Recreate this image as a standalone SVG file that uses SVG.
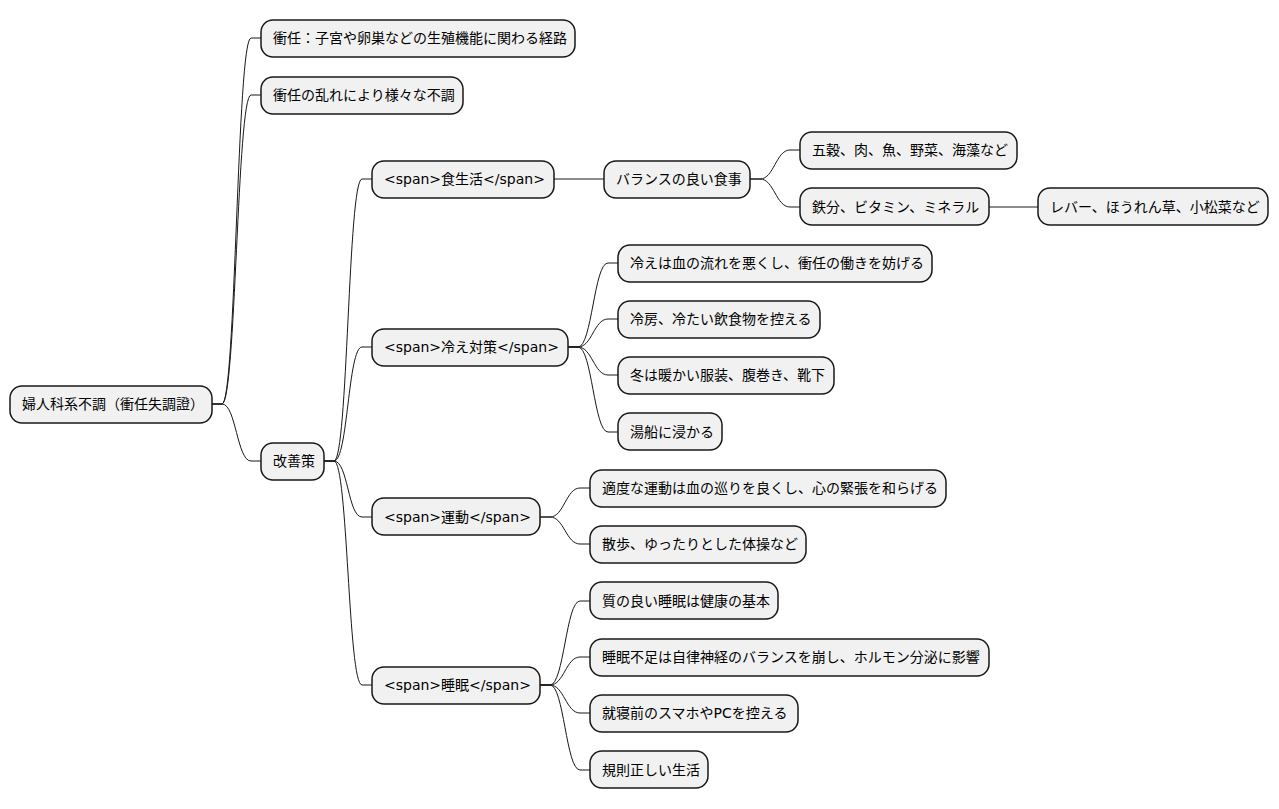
<svg xmlns="http://www.w3.org/2000/svg" width="1279" height="809" viewBox="0 0 1279 809">
<style>
.n rect{fill:#F1F1F1;stroke:#181818;stroke-width:1.5}
.n text{font-family:"DejaVu Sans","Noto Sans CJK JP",sans-serif;font-size:14px;fill:#000}
.c path{fill:none;stroke:#181818;stroke-width:1}
</style>
<rect width="1279" height="809" fill="#FFFFFF"/>
<g class="c">
<path d="M212,404 h10 C236,404 237,38 251,38 h10"/>
<path d="M212,404 h10 C236,404 237,95 251,95 h10"/>
<path d="M212,404 h10 C236,404 237,461 251,461 h10"/>
<path d="M324,461 h10 C348,461 348,179 362,179 h10"/>
<path d="M324,461 h10 C348,461 348,347 362,347 h10"/>
<path d="M324,461 h10 C348,461 348,517 362,517 h10"/>
<path d="M324,461 h10 C348,461 348,685 362,685 h10"/>
<path d="M554,179 h50"/>
<path d="M750,179 h10 C774,179 776,150 790,150 h10"/>
<path d="M750,179 h10 C774,179 776,207 790,207 h10"/>
<path d="M989,207 h49"/>
<path d="M568,347 h10 C592,347 594,263 608,263 h10"/>
<path d="M568,347 h10 C592,347 594,319 608,319 h10"/>
<path d="M568,347 h10 C592,347 594,375 608,375 h10"/>
<path d="M568,347 h10 C592,347 594,432 608,432 h10"/>
<path d="M540,517 h10 C564,517 566,488 580,488 h10"/>
<path d="M540,517 h10 C564,517 566,544 580,544 h10"/>
<path d="M540,685 h10 C564,685 566,601 580,601 h10"/>
<path d="M540,685 h10 C564,685 566,657 580,657 h10"/>
<path d="M540,685 h10 C564,685 566,713 580,713 h10"/>
<path d="M540,685 h10 C564,685 566,770 580,770 h10"/>
</g>
<g id="root" class="n"><rect x="10" y="386" width="202" height="37" rx="12"/><text x="22" y="409">婦人科系不調（衝任失調證）</text></g>
<g id="n1" class="n"><rect x="261" y="20" width="314" height="37" rx="12"/><text x="273" y="43">衝任：子宮や卵巣などの生殖機能に関わる経路</text></g>
<g id="n2" class="n"><rect x="261" y="77" width="202" height="37" rx="12"/><text x="273" y="100">衝任の乱れにより様々な不調</text></g>
<g id="n3" class="n"><rect x="261" y="443" width="63" height="37" rx="12"/><text x="273" y="466">改善策</text></g>
<g id="n4" class="n"><rect x="372" y="161" width="182" height="37" rx="12"/><text x="384" y="184">&lt;span&gt;食生活&lt;/span&gt;</text></g>
<g id="n5" class="n"><rect x="604" y="161" width="146" height="37" rx="12"/><text x="616" y="184">バランスの良い食事</text></g>
<g id="n6" class="n"><rect x="800" y="132" width="217" height="37" rx="12"/><text x="812" y="155">五穀、肉、魚、野菜、海藻など</text></g>
<g id="n7" class="n"><rect x="800" y="188" width="189" height="37" rx="12"/><text x="812" y="212">鉄分、ビタミン、ミネラル</text></g>
<g id="n8" class="n"><rect x="1038" y="188" width="230" height="37" rx="12"/><text x="1050" y="212">レバー、ほうれん草、小松菜など</text></g>
<g id="n9" class="n"><rect x="372" y="329" width="196" height="37" rx="12"/><text x="384" y="352">&lt;span&gt;冷え対策&lt;/span&gt;</text></g>
<g id="n10" class="n"><rect x="618" y="245" width="314" height="37" rx="12"/><text x="630" y="268">冷えは血の流れを悪くし、衝任の働きを妨げる</text></g>
<g id="n11" class="n"><rect x="618" y="301" width="202" height="37" rx="12"/><text x="630" y="324">冷房、冷たい飲食物を控える</text></g>
<g id="n12" class="n"><rect x="618" y="357" width="216" height="37" rx="12"/><text x="630" y="380">冬は暖かい服装、腹巻き、靴下</text></g>
<g id="n13" class="n"><rect x="618" y="413" width="104" height="37" rx="12"/><text x="630" y="437">湯船に浸かる</text></g>
<g id="n14" class="n"><rect x="372" y="498" width="168" height="37" rx="12"/><text x="384" y="522">&lt;span&gt;運動&lt;/span&gt;</text></g>
<g id="n15" class="n"><rect x="590" y="470" width="356" height="37" rx="12"/><text x="602" y="493">適度な運動は血の巡りを良くし、心の緊張を和らげる</text></g>
<g id="n16" class="n"><rect x="590" y="526" width="216" height="37" rx="12"/><text x="602" y="549">散歩、ゆったりとした体操など</text></g>
<g id="n17" class="n"><rect x="372" y="667" width="168" height="37" rx="12"/><text x="384" y="690">&lt;span&gt;睡眠&lt;/span&gt;</text></g>
<g id="n18" class="n"><rect x="590" y="582" width="188" height="37" rx="12"/><text x="602" y="606">質の良い睡眠は健康の基本</text></g>
<g id="n19" class="n"><rect x="590" y="639" width="399" height="37" rx="12"/><text x="602" y="662">睡眠不足は自律神経のバランスを崩し、ホルモン分泌に影響</text></g>
<g id="n20" class="n"><rect x="590" y="695" width="208" height="37" rx="12"/><text x="602" y="718">就寝前のスマホやPCを控える</text></g>
<g id="n21" class="n"><rect x="590" y="751" width="118" height="37" rx="12"/><text x="602" y="775">規則正しい生活</text></g>
</svg>
